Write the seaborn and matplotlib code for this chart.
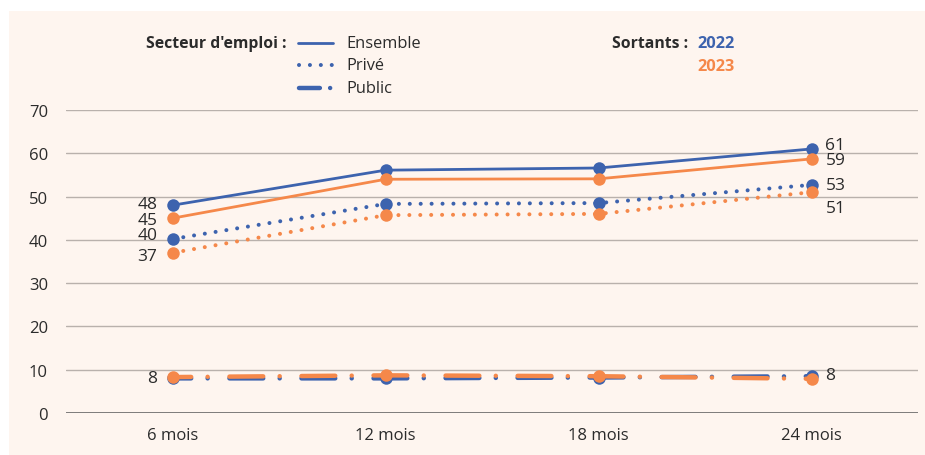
import matplotlib
matplotlib.use("Agg")
import matplotlib.pyplot as plt
from matplotlib.lines import Line2D
from matplotlib.patches import Rectangle
import seaborn as sns
import pandas as pd

# données
durees = ['6 mois', '12 mois', '18 mois', '24 mois']
ensemble_2022 = [48, 56.1, 56.6, 61]
ensemble_2023 = [45, 54, 54.1, 58.7]
prive_2022 = [40.2, 48.3, 48.5, 52.7]
prive_2023 = [37, 45.7, 46, 51]
public_2022 = [8, 8, 8.2, 8.5]
public_2023 = [8.3, 8.7, 8.5, 7.9]

bleu = '#3d63ae'
orange = '#f5884a'
fond = '#fef5ef'
texte = '#2b2b2b'

sns.set_style('white')
plt.rcParams['font.family'] = ['Open Sans', 'DejaVu Sans']

rows = []
for secteur, annee, vals in [('Ensemble', '2022', ensemble_2022), ('Ensemble', '2023', ensemble_2023),
                             ('Privé', '2022', prive_2022), ('Privé', '2023', prive_2023),
                             ('Public', '2022', public_2022), ('Public', '2023', public_2023)]:
    for d, v in zip(durees, vals):
        rows.append({'duree': d, 'taux': v, 'secteur': secteur, 'annee': annee})
df = pd.DataFrame(rows)

fig = plt.figure(figsize=(9.25, 4.56), dpi=100, facecolor='white')
fig.patches.append(Rectangle((9 / 925, 0), 1, 1 - 12 / 456, transform=fig.transFigure,
                             facecolor=fond, edgecolor='none', zorder=-10))
ax = fig.add_axes([66 / 925, 42 / 456, 852 / 925, 303 / 456])
ax.set_facecolor(fond)

styles = {
    'Ensemble': dict(linestyle='-', linewidth=2.0),
    'Privé': dict(linestyle=(0, (0.01, 2.7)), linewidth=2.9, dash_capstyle='round'),
    'Public': dict(linestyle=(3.4, (7.6, 3.7, 0.01, 4.9)), linewidth=3.2, dash_capstyle='round'),
}
couleurs = {'2022': bleu, '2023': orange}

for secteur in ['Public', 'Privé', 'Ensemble']:
    for annee in ['2022', '2023']:
        sub = df[(df.secteur == secteur) & (df.annee == annee)]
        sns.lineplot(data=sub, x='duree', y='taux', ax=ax, color=couleurs[annee],
                     marker='o', markersize=9, mew=0, sort=False, errorbar=None,
                     clip_on=False, zorder=3, **styles[secteur])

ax.set_xlim(-0.5, 3.5)
ax.set_ylim(0, 70)
ax.set_yticks(range(0, 71, 10))
ax.grid(axis='y', color='#b9b1ac', linewidth=1)
ax.axhline(0, color='#6a6a6a', linewidth=1.2, zorder=2)
for s in ax.spines.values():
    s.set_visible(False)
ax.set_xlabel('')
ax.set_ylabel('')
ax.tick_params(axis='y', length=0, pad=13, labelsize=12, labelcolor=texte)
ax.tick_params(axis='x', length=0, pad=10, labelsize=12, labelcolor=texte)
if ax.get_legend():
    ax.get_legend().remove()

# étiquettes de valeurs (premier et dernier point)
gauche = [(ensemble_2022[0], 1), (ensemble_2023[0], -1), (prive_2022[0], 3), (prive_2023[0], -2), (public_2022[0], 0)]
droite = [(ensemble_2022[-1], 3), (ensemble_2023[-1], -1), (prive_2022[-1], 0), (prive_2023[-1], -11), (public_2022[-1], 1)]
for v, dy in gauche:
    ax.annotate(f'{v:.0f}', (0, v), xytext=(-11, dy), textcoords='offset points',
                ha='right', va='center', fontsize=12.5, color=texte)
for v, dy in droite:
    ax.annotate(f'{v:.0f}', (3, v), xytext=(10, dy), textcoords='offset points',
                ha='left', va='center', fontsize=12.5, color=texte)

# légende
def fx(px):
    return px / 925

def fy(py):
    return 1 - py / 456

fig.text(fx(287), fy(44), "Secteur d'emploi :", ha='right', va='center', fontsize=11.3,
         fontweight='bold', color=texte)
fig.add_artist(Line2D([fx(298), fx(333)], [fy(44), fy(44)], color=bleu, **styles['Ensemble']))
fig.add_artist(Line2D([fx(299), fx(334)], [fy(66), fy(66)], color=bleu,
                      linestyle=(0, (0.01, 2.7)), linewidth=2.9, dash_capstyle='round'))
fig.add_artist(Line2D([fx(299), fx(334)], [fy(89), fy(89)], color=bleu,
                      linestyle=(0, (4.7, 2.3, 0.01, 10)), linewidth=3.2, dash_capstyle='round'))
for y, lab in [(44, 'Ensemble'), (66, 'Privé'), (89, 'Public')]:
    fig.text(fx(346), fy(y), lab, ha='left', va='center', fontsize=11.8, color=texte)

fig.text(fx(688), fy(44), 'Sortants :', ha='right', va='center', fontsize=11.3,
         fontweight='bold', color=texte)
fig.text(fx(697), fy(44), '2022', ha='left', va='center', fontsize=11.8,
         fontweight='bold', color=bleu)
fig.text(fx(697), fy(67), '2023', ha='left', va='center', fontsize=11.8,
         fontweight='bold', color=orange)

fig.savefig('out.png', dpi=100, facecolor='white')
